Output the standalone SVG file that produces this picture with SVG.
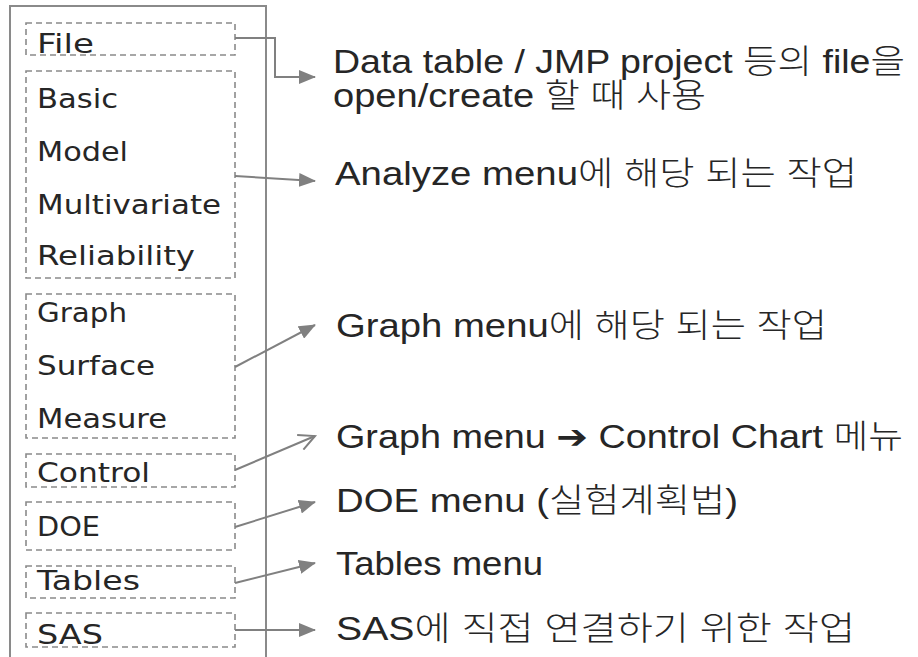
<svg xmlns="http://www.w3.org/2000/svg" width="918" height="657" viewBox="0 0 918 657">
  <style>
    .frame { fill: none; stroke: #8a8a8a; stroke-width: 2; }
    .box { fill: none; stroke: #8a8a8a; stroke-width: 1.6; stroke-dasharray: 6 4; }
    .lbl { font-family: "DejaVu Sans", "Liberation Sans", sans-serif; font-size: 26px; fill: #262626; }
    .desc { font-family: "Liberation Sans", "Noto Sans CJK KR", "DejaVu Sans", sans-serif; font-size: 33px; fill: #262626; }
    .ko { font-weight: 300; }
    .conn { fill: none; stroke: #808080; stroke-width: 2; }
  </style>
  <defs>
    <marker id="arr" markerUnits="userSpaceOnUse" markerWidth="17" markerHeight="14" refX="16" refY="7" orient="auto">
      <path d="M0,0 L17,7 L0,14 z" fill="#808080"/>
    </marker>
    <marker id="arrOpen" markerUnits="userSpaceOnUse" markerWidth="20" markerHeight="18" refX="17" refY="9" orient="auto">
      <path d="M1,1 L17,9 L1,17" fill="none" stroke="#808080" stroke-width="2"/>
    </marker>
  </defs>
  <rect width="918" height="657" fill="#ffffff"/>

  <rect class="frame" x="10" y="6" width="256" height="680"/>

  <g id="node-file">
    <rect class="box" x="26" y="23" width="209" height="32"/>
    <text class="lbl" x="37" y="53" textLength="57" lengthAdjust="spacingAndGlyphs">File</text>
  </g>
  <g id="node-analyze">
    <rect class="box" x="26" y="71" width="209" height="207"/>
    <text class="lbl" x="37" y="108" textLength="81" lengthAdjust="spacingAndGlyphs">Basic</text>
    <text class="lbl" x="37" y="161" textLength="91" lengthAdjust="spacingAndGlyphs">Model</text>
    <text class="lbl" x="37" y="214" textLength="184" lengthAdjust="spacingAndGlyphs">Multivariate</text>
    <text class="lbl" x="37" y="265" textLength="158" lengthAdjust="spacingAndGlyphs">Reliability</text>
  </g>
  <g id="node-graph">
    <rect class="box" x="26" y="294" width="209" height="144"/>
    <text class="lbl" x="37" y="322" textLength="90" lengthAdjust="spacingAndGlyphs">Graph</text>
    <text class="lbl" x="37" y="375" textLength="118" lengthAdjust="spacingAndGlyphs">Surface</text>
    <text class="lbl" x="37" y="428" textLength="130" lengthAdjust="spacingAndGlyphs">Measure</text>
  </g>
  <g id="node-control">
    <rect class="box" x="26" y="454" width="209" height="33"/>
    <text class="lbl" x="37" y="482" textLength="113" lengthAdjust="spacingAndGlyphs">Control</text>
  </g>
  <g id="node-doe">
    <rect class="box" x="26" y="502" width="209" height="48"/>
    <text class="lbl" x="37" y="536" textLength="63" lengthAdjust="spacingAndGlyphs">DOE</text>
  </g>
  <g id="node-tables">
    <rect class="box" x="26" y="566" width="209" height="32"/>
    <text class="lbl" x="37" y="590" textLength="103" lengthAdjust="spacingAndGlyphs">Tables</text>
  </g>
  <g id="node-sas">
    <rect class="box" x="26" y="613" width="209" height="34"/>
    <text class="lbl" x="37" y="644" textLength="66" lengthAdjust="spacingAndGlyphs">SAS</text>
  </g>

  <g id="desc-file">
    <text class="desc" x="333" y="73" textLength="572" lengthAdjust="spacingAndGlyphs">Data table / JMP project <tspan class="ko">등의</tspan> file<tspan class="ko">을</tspan></text>
    <text class="desc" x="333" y="107" textLength="373" lengthAdjust="spacingAndGlyphs">open/create <tspan class="ko">할 때 사용</tspan></text>
  </g>
  <g id="desc-analyze">
    <text class="desc" x="335" y="185" textLength="522" lengthAdjust="spacingAndGlyphs">Analyze menu<tspan class="ko">에 해당 되는 작업</tspan></text>
  </g>
  <g id="desc-graph">
    <text class="desc" x="336" y="337" textLength="491" lengthAdjust="spacingAndGlyphs">Graph menu<tspan class="ko">에 해당 되는 작업</tspan></text>
  </g>
  <g id="desc-control">
    <text class="desc" x="336" y="448" textLength="567" lengthAdjust="spacingAndGlyphs">Graph menu ➔ Control Chart <tspan class="ko">메뉴</tspan></text>
  </g>
  <g id="desc-doe">
    <text class="desc" x="336" y="512" textLength="402" lengthAdjust="spacingAndGlyphs">DOE menu (<tspan class="ko">실험계획법</tspan>)</text>
  </g>
  <g id="desc-tables">
    <text class="desc" x="336" y="575" textLength="207" lengthAdjust="spacingAndGlyphs">Tables menu</text>
  </g>
  <g id="desc-sas">
    <text class="desc" x="336" y="640" textLength="519" lengthAdjust="spacingAndGlyphs">SAS<tspan class="ko">에 직접 연결하기 위한 작업</tspan></text>
  </g>

  <g id="connectors">
    <path class="conn" d="M235,38 H275 V77 H315" marker-end="url(#arr)"/>
    <path class="conn" d="M235,176 L315,181" marker-end="url(#arr)"/>
    <path class="conn" d="M235,367 L315,325" marker-end="url(#arr)"/>
    <path class="conn" d="M235,470 L315,436" marker-end="url(#arrOpen)"/>
    <path class="conn" d="M235,527 L315,502" marker-end="url(#arr)"/>
    <path class="conn" d="M235,583 L315,563" marker-end="url(#arr)"/>
    <path class="conn" d="M235,630 L315,630" marker-end="url(#arr)"/>
  </g>
</svg>
